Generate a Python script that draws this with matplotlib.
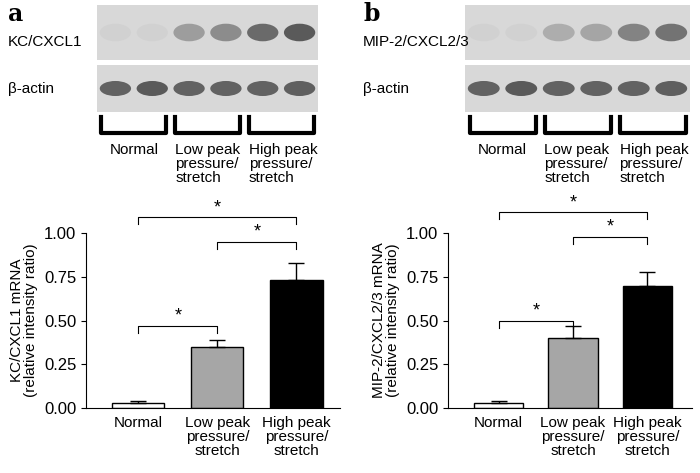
import matplotlib
matplotlib.use("Agg")
import matplotlib.pyplot as plt
from matplotlib.patches import Ellipse

groups = ["Normal", "Low peak\npressure/\nstretch", "High peak\npressure/\nstretch"]
a_vals = [0.03, 0.35, 0.73]
a_errs = [0.01, 0.04, 0.10]
b_vals = [0.03, 0.40, 0.70]
b_errs = [0.01, 0.07, 0.08]
a_sig = [(0, 1, 0.47), (1, 2, 0.95), (0, 2, 1.09)]
b_sig = [(0, 1, 0.50), (1, 2, 0.98), (0, 2, 1.12)]
a_gene_bands = [0.04, 0.04, 0.35, 0.45, 0.65, 0.75]
b_gene_bands = [0.04, 0.04, 0.25, 0.3, 0.5, 0.6]
actin_bands = [0.7, 0.75, 0.7, 0.7, 0.7, 0.72]
bar_colors = ["white", "#a6a6a6", "black"]
yticks = [0.00, 0.25, 0.50, 0.75, 1.00]

W, H = 700, 473
fig = plt.figure(figsize=(W/100, H/100), dpi=100)
plt.rcParams["font.family"] = "Liberation Sans"

def ax_px(x0, y0, x1, y1):
    return fig.add_axes([x0/W, 1-y1/H, (x1-x0)/W, (y1-y0)/H])

def gel(x0, x1, y0, y1, bands):
    ax = ax_px(x0, y0, x1, y1)
    ax.set_xlim(0, 6); ax.set_ylim(0, 1)
    ax.set_facecolor("#d8d8d8")
    for i, v in enumerate(bands):
        ax.add_patch(Ellipse((i+0.5, 0.5), 0.85, 0.32, color="#303030", alpha=v, lw=0))
    ax.set_xticks([]); ax.set_yticks([])
    for s in ax.spines.values(): s.set_visible(False)

def panel(letter, lx, gx0, gx1, gene, gband, ax_x0, ax_x1, xlim, vals, errs, sig, ylabel):
    fig.text(lx/W, 1-2/H, letter, fontsize=17, fontweight="bold", family="DejaVu Serif", va="top")
    gel(gx0, gx1, 5, 60, gband)
    gel(gx0, gx1, 65, 112, actin_bands)
    fig.text((lx)/W, 1-42/H, gene, ha="left", va="center", fontsize=11)
    fig.text((lx)/W, 1-89/H, "β-actin", ha="left", va="center", fontsize=11)
    lw = (gx1-gx0)/3
    for i in range(3):
        c = gx0 + lw*(i+0.5)
        bx0, bx1 = c - lw*0.44, c + lw*0.44
        fig.add_artist(plt.Line2D([bx0/W, bx0/W, bx1/W, bx1/W],
                                  [1-117/H, 1-133/H, 1-133/H, 1-117/H], color="black", lw=3))
        if i == 0:
            fig.text(c/W, 1-143/H, groups[i], ha="center", va="top", fontsize=11)
        else:
            fig.text(bx0/W, 1-143/H, groups[i], ha="left", va="top", fontsize=11, linespacing=1.0)
    ax = ax_px(ax_x0, 233, ax_x1, 408)
    x = [0, 1, 2]
    ax.bar(x, vals, width=0.66, color=bar_colors, edgecolor="black", lw=1)
    ax.errorbar(x, vals, yerr=[[0]*3, errs], fmt="none", ecolor="black", capsize=6, lw=1)
    ax.set_ylim(0, 1.0); ax.set_xlim(*xlim)
    ax.set_yticks(yticks); ax.set_yticklabels([f"{t:.2f}" for t in yticks], fontsize=12)
    ax.set_xticks(x); ax.set_xticklabels(groups, fontsize=11, linespacing=1.0)
    ax.tick_params(axis="x", length=0, pad=6)
    ax.spines["top"].set_visible(False); ax.spines["right"].set_visible(False)
    ax.set_ylabel(ylabel, fontsize=11, linespacing=1.0)
    for i, j, y in sig:
        ax.plot([i, i, j, j], [y-0.04, y, y, y-0.04], color="black", lw=0.8, clip_on=False)
        ax.text((i+j)/2, y+0.005, "*", ha="center", va="bottom", fontsize=13)

panel("a", 8, 97, 318, "KC/CXCL1", a_gene_bands, 86, 340, (-0.66, 2.55), a_vals, a_errs, a_sig,
      "KC/CXCL1 mRNA\n(relative intensity ratio)")
panel("b", 363, 465, 690, "MIP-2/CXCL2/3", b_gene_bands, 448, 692, (-0.68, 2.6), b_vals, b_errs, b_sig,
      "MIP-2/CXCL2/3 mRNA\n(relative intensity ratio)")
fig.savefig("out.png", dpi=100)
